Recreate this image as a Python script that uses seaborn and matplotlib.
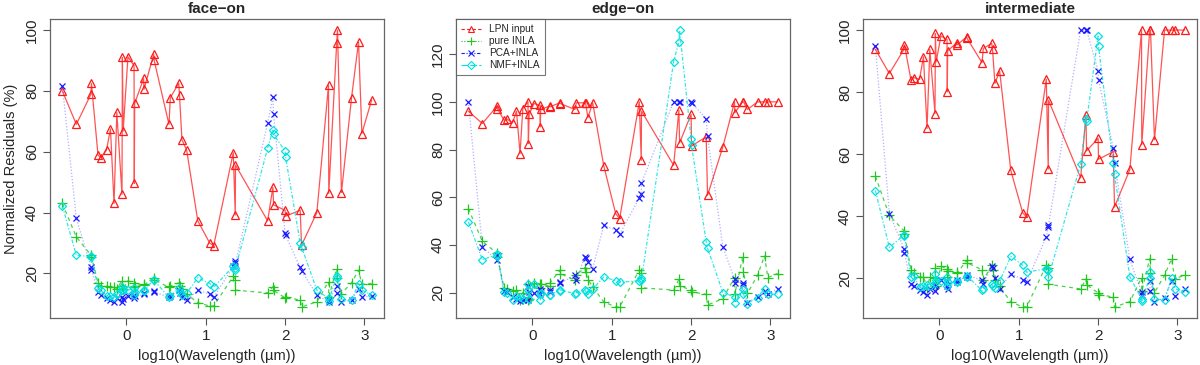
import numpy as np
import pandas as pd
import seaborn as sns
import matplotlib
matplotlib.use("Agg")
import matplotlib.pyplot as plt
from matplotlib.lines import Line2D

# log10 of the filter wavelengths (shared by all panels)
log_wl = [-0.806, -0.63, -0.445, -0.44, -0.357, -0.323, -0.25, -0.20, -0.155, -0.12,
          -0.055, -0.05, -0.04, 0.02, 0.097, 0.10, 0.105, 0.218, 0.222, 0.345,
          0.35, 0.537, 0.554, 0.66, 0.67, 0.70, 0.76, 0.90, 1.05, 1.10,
          1.347, 1.372, 1.375, 1.78, 1.846, 1.855, 2.0, 2.005, 2.19, 2.207,
          2.40, 2.547, 2.55, 2.65, 2.66, 2.71, 2.837, 2.925, 2.967, 3.09]

methods = ["LPN input", "pure INLA", "PCA+INLA", "NMF+INLA"]
panels = ["face\u2212on", "edge\u2212on", "intermediate"]

# face-on
faceon_lpn = [80, 69, 79, 82.5, 58.9, 58.1, 60.5, 67.5, 43, 73,
              46, 91, 66.8, 91.2, 88.3, 49.6, 75.9, 84.1, 80.5, 92.1,
              90.1, 69, 77.8, 82.5, 78.5, 64, 60.5, 37.3, 30, 29.1,
              59.7, 39.2, 55.6, 37.3, 48.3, 42.5, 40.8, 38.8, 40.8, 29.3,
              40, 81.9, 46.3, 95.8, 100, 46.6, 77.8, 96.1, 66, 77]
faceon_pure = [43, 32, 26, 25.5, 17, 16, 15.8, 15.5, 15.5, 15,
               17.6, 16, 15, 17.6, 16.9, 15.6, 16, 16.5, 16.2, 18.4,
               18, 15.4, 15.8, 16.9, 16, 15, 13.2, 10.4, 9.3, 9.3,
               19.1, 18, 14.5, 13.6, 15.6, 14.4, 12, 12.3, 11.2, 9.0,
               10.7, 17.3, 12.3, 21.6, 18.4, 13.4, 16.9, 21.1, 16.5, 16.7]
faceon_pca = [81.7, 38.1, 22.2, 21.3, 14.0, 13, 11.8, 11.2, 10.7, 11.8,
              12.3, 10.7, 11.5, 12.5, 12.9, 11.8, 12.5, 13.2, 13.5, 14.3,
              14.0, 12.1, 12.5, 14.5, 13.5, 12.3, 11.2, 14.5, 13.2, 12.1,
              22.4, 24, 23.3, 69.3, 78.1, 72.4, 33.2, 32.6, 22, 20.9,
              12.9, 10.7, 11.2, 15.8, 13.6, 10.7, 11.2, 15, 12.3, 12.5]
faceon_nmf = [42.2, 26, 25.5, 25.8, 15.1, 14.5, 12.5, 12.5, 12.3, 13.2,
              14.5, 15.5, 14.5, 14.5, 15.1, 12.8, 14, 14.5, 14.2, 18,
              17.8, 12.1, 12.5, 15.1, 14, 13, 13.5, 18.6, 16.7, 15.4,
              22.4, 21.3, 21.8, 61.1, 67.1, 65.7, 60.2, 58.4, 30.1, 28.8,
              14.5, 11.8, 11, 19.1, 18.4, 11.5, 11.2, 16.7, 14.5, 12.9]

# edge-on
edgeon_lpn = [96.1, 90.9, 98.2, 97.2, 92.3, 92.9, 91.2, 96.1, 78.3, 97.2,
              100, 82.5, 94.8, 99.3, 98.6, 89.5, 96.9, 98.2, 97.9, 99.6,
              99.3, 96.8, 99.6, 99.6, 99.6, 93.4, 99.6, 73.1, 53.1, 51,
              100, 75.5, 96.1, 73.4, 96.5, 82.8, 94.8, 81.5, 85.3, 60.8,
              81.1, 100, 95.4, 100, 100, 96.8, 100, 100, 100, 100]
edgeon_pure = [55.2, 41.5, 36.5, 35, 22.1, 21.5, 20.5, 21, 17, 20,
               17, 23.5, 17.3, 24, 23.5, 22, 23.8, 22.7, 24, 29.4,
               28, 25.2, 27.3, 30.5, 28.7, 25.5, 22.4, 16.1, 14, 14,
               29.5, 28.3, 22, 21.1, 25.6, 22.8, 21.1, 20.3, 19.3, 14.8,
               17.5, 26.3, 19.3, 35.1, 28.8, 19.7, 27.3, 35.4, 26.3, 28]
edgeon_pca = [100, 39.2, 33.6, 35.7, 20.6, 20.3, 18.2, 17.5, 16.5, 17,
              22.7, 17.1, 20.3, 19.9, 21.7, 19.6, 20.5, 21.3, 20.3, 24.5,
              24, 27.3, 25.5, 35, 34.5, 32.9, 30, 48.3, 46.2, 44.5,
              59.7, 61.3, 66, 100, 100, 100, 100, 99.5, 93, 85.5,
              39.2, 25.6, 24.2, 24.2, 23, 15.8, 18.2, 20.7, 19.3, 21.7]
edgeon_nmf = [49.7, 33.8, 36, 35.5, 20.3, 20, 17.1, 18.5, 18, 17.5,
              21, 23.5, 17.5, 23.8, 19.5, 17, 20, 18.8, 19.2, 20.8,
              21.2, 19.5, 20, 21.2, 20.5, 19.3, 21.5, 26.6, 25, 24.3,
              25, 26, 25.5, 116.9, 125.2, 130.1, 84.3, 81.8, 41.3, 38.7,
              20, 18.2, 15.8, 21.7, 19.3, 15.4, 17.9, 21.7, 19.3, 19.3]

# intermediate
inter_lpn = [93.8, 86, 93.8, 95.2, 83.9, 84.7, 84.1, 91.4, 68.3, 93.8,
             73.1, 98.9, 89.8, 98.1, 97, 80.1, 93.3, 95.9, 95.2, 97.8,
             97.3, 89.5, 94.1, 95.7, 93.8, 82.8, 86.8, 54.8, 41.1, 39.8,
             84.2, 55.2, 77.4, 52.4, 72.6, 61.1, 65.1, 58.4, 60.8, 43,
             55.1, 100, 63.1, 100, 100, 64.7, 100, 100, 100, 100]
inter_pure = [52.9, 40.3, 35.3, 34.4, 22.6, 21.8, 20.4, 20.6, 17, 20.3,
              20, 23.4, 17.5, 23.9, 23.1, 20.5, 22.5, 22, 21.6, 25.8,
              25, 22.8, 19.4, 24.3, 22.8, 19.5, 17.4, 12.4, 10.8, 10.8,
              24.2, 23.5, 18.1, 16.6, 19.8, 18, 15.3, 14.8, 14, 10.8,
              12.5, 20.2, 15.9, 26.3, 21.8, 15.4, 21, 26.3, 19.9, 21]
inter_pca = [94.8, 40.9, 29.6, 28.3, 18.1, 17.5, 16.1, 15.6, 14.5, 16.5,
             17.4, 15.8, 18, 19.6, 19, 17.4, 16.6, 19.4, 18.9, 20.4,
             21, 19.4, 18.3, 23.9, 23.5, 20.2, 16.7, 21.5, 19.6, 18.9,
             33.3, 36.6, 37.1, 100, 100, 100, 86.9, 83.9, 62.1, 57.1,
             26.1, 15.6, 14.5, 15.9, 19.1, 12.4, 13.8, 19.1, 14.3, 16.7]
inter_nmf = [48.3, 30, 33.9, 33.6, 20.6, 20.8, 17.2, 17.4, 17.8, 17.7,
             18.5, 21.5, 19.6, 19.1, 20.4, 17.5, 18.7, 18.8, 19.2, 20.6,
             20.8, 16.1, 16.6, 18.1, 17.4, 17, 19.1, 27.1, 24.2, 22,
             23.1, 22.8, 20.4, 56.8, 71.3, 70.6, 98.1, 94.8, 57.1, 53.5,
             20.5, 13.4, 12.7, 20.2, 21.9, 13.4, 12.9, 20.2, 16.7, 15.6]

series = {
    panels[0]: [faceon_lpn, faceon_pure, faceon_pca, faceon_nmf],
    panels[1]: [edgeon_lpn, edgeon_pure, edgeon_pca, edgeon_nmf],
    panels[2]: [inter_lpn, inter_pure, inter_pca, inter_nmf],
}

rows = []
for p in panels:
    for m, vals in zip(methods, series[p]):
        for i, (xv, yv) in enumerate(zip(log_wl, vals)):
            rows.append({"panel": p, "method": m, "order": i, "x": xv, "y": yv})
df = pd.DataFrame(rows)

# colour, plot linestyle, line alpha, marker, size, legend linestyle
styles = {
    "LPN input": ("#ff1a1a", "-", 0.75, "^", 5.2, (0, (3, 2))),
    "pure INLA": ("#1ec81e", (0, (3, 3)), 0.8, "+", 6.5, (0, (1, 1.5))),
    "PCA+INLA": ("#1a1aff", (0, (1, 1.5)), 0.35, "x", 4.2, (0, (3, 1.5, 1, 1.5))),
    "NMF+INLA": ("#00e0e0", (0, (3, 1.5, 1, 1.5)), 0.8, "D", 4.3, (0, (6, 2))),
}

sns.set_style("ticks")
plt.rcParams["font.family"] = ["Liberation Sans", "DejaVu Sans"]
plt.rcParams["axes.linewidth"] = 0.9

fig = plt.figure(figsize=(12, 3.65), dpi=100)
lefts = [50 / 1200, 456 / 1200, 863 / 1200]
bottom = 47 / 365
height = 299 / 365
width = 334 / 1200
axes = [fig.add_axes([l, bottom, width, height]) for l in lefts]

xr = max(log_wl) - min(log_wl)
xlim = (min(log_wl) - 0.04 * xr, max(log_wl) + 0.04 * xr)

for ax, p in zip(axes, panels):
    d_p = df[df.panel == p]
    for m in methods:
        c, ls, la, mk, ms, _ = styles[m]
        d = d_p[d_p.method == m]
        sns.lineplot(data=d, x="x", y="y", sort=False, estimator=None, color=c,
                     linestyle=ls, lw=0.9, alpha=la, legend=False, ax=ax)
        sns.lineplot(data=d, x="x", y="y", sort=False, estimator=None, color=c,
                     linestyle="none", marker=mk, markersize=ms,
                     markerfacecolor="none", markeredgecolor=c,
                     markeredgewidth=0.9, legend=False, ax=ax)
    ymin, ymax = d_p.y.min(), d_p.y.max()
    yr = ymax - ymin
    ax.set_xlim(*xlim)
    ax.set_ylim(ymin - 0.04 * yr, ymax + 0.04 * yr)
    ax.set_xticks([0, 1, 2, 3])
    ax.set_yticks(np.arange(20, ymax + 1, 20))
    ax.tick_params(direction="out", length=5, width=0.8, color="#555555",
                   labelsize=11, pad=3)
    plt.setp(ax.get_yticklabels(), rotation=90, va="center")
    for s in ax.spines.values():
        s.set_color("#666666")
        s.set_linewidth(0.9)
    ax.set_title(p, fontsize=11, fontweight="bold", pad=4)
    ax.set_xlabel("log10(Wavelength (\u00b5m))", fontsize=10.5, labelpad=4)
    ax.set_ylabel("")

axes[0].set_ylabel("Normalized Residuals (%)", fontsize=10.5, labelpad=5)

handles = [Line2D([0], [0], color=styles[m][0], linestyle=styles[m][5], lw=0.8,
                  marker=styles[m][3], markersize=styles[m][4] * 0.9,
                  markerfacecolor="none", markeredgecolor=styles[m][0],
                  markeredgewidth=0.8)
           for m in methods]
leg = axes[1].legend(handles, methods, loc="upper left", bbox_to_anchor=(0, 1),
                     borderaxespad=0, fontsize=7.3, frameon=True, fancybox=False,
                     handlelength=2.0, labelspacing=0.2, borderpad=0.5,
                     handletextpad=0.8, numpoints=1)
leg.get_frame().set_edgecolor("#555555")
leg.get_frame().set_linewidth(0.8)

fig.savefig("out.png", dpi=100)
